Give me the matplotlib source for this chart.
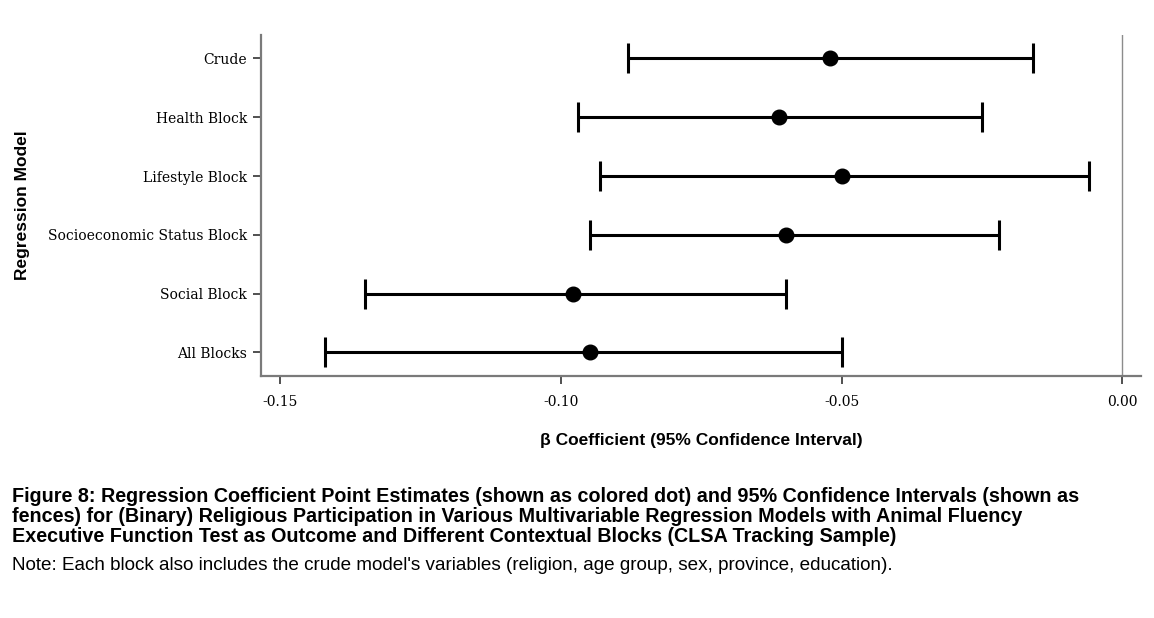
import numpy as np
import matplotlib.pyplot as plt

# regression models, top to bottom
models = ["Crude", "Health Block", "Lifestyle Block",
          "Socioeconomic Status Block", "Social Block", "All Blocks"]

# beta coefficients with 95% CI bounds
beta = [-0.0520, -0.0611, -0.0499, -0.0600, -0.0979, -0.0949]
ci_low = [-0.0880, -0.0970, -0.0930, -0.0949, -0.1349, -0.1420]
ci_high = [-0.0160, -0.0250, -0.0060, -0.0220, -0.0600, -0.0500]

x_ticks = [-0.15, -0.10, -0.05, 0.00]
x_tick_labels = ["-0.15", "-0.10", "-0.05", "0.00"]

caption = ("Figure 8: Regression Coefficient Point Estimates (shown as colored dot) and 95% Confidence Intervals (shown as\n"
           "fences) for (Binary) Religious Participation in Various Multivariable Regression Models with Animal Fluency\n"
           "Executive Function Test as Outcome and Different Contextual Blocks (CLSA Tracking Sample)")
note = "Note: Each block also includes the crude model's variables (religion, age group, sex, province, education)."

fig = plt.figure(figsize=(11.54, 6.18), dpi=100)
ax = fig.add_axes([0.2262, 0.3916, 0.9887 - 0.2262, 0.9434 - 0.3916])

y = np.arange(len(models))
beta = np.array(beta)
err = np.vstack([beta - np.array(ci_low), np.array(ci_high) - beta])

# reference line at zero effect
ax.axvline(0, color="#8c8c8c", lw=1.0, zorder=1)
ax.errorbar(beta, y, xerr=err, fmt="o", color="black", ms=10.5,
            elinewidth=2.2, capsize=11, capthick=2.2, zorder=3)

ax.set_ylim(len(models) - 1 + 0.4, -0.4)
ax.set_xlim(-0.1534, 0.0033)
ax.set_yticks(y)
ax.set_yticklabels(models, family="DejaVu Serif", fontsize=10)
ax.set_xticks(x_ticks)
ax.set_xticklabels(x_tick_labels, family="DejaVu Serif", fontsize=10)

for side in ["top", "right"]:
    ax.spines[side].set_visible(False)
for side in ["left", "bottom"]:
    ax.spines[side].set_color("#7a7a7a")
    ax.spines[side].set_linewidth(1.6)
ax.tick_params(axis="both", length=6, width=1.4, color="#505050", pad=4)
ax.tick_params(axis="x", pad=8)

ax.set_xlabel("β Coefficient (95% Confidence Interval)", family="Liberation Sans",
              fontweight="bold", fontsize=12.5, labelpad=17)
ax.set_ylabel("Regression Model", family="Liberation Sans",
              fontweight="bold", fontsize=12.5)
ax.yaxis.set_label_coords(-0.263, 0.5)

fig.text(12 / 1154, 1 - 487 / 618, caption, family="Liberation Sans",
         fontweight="bold", fontsize=14.2, va="top", ha="left", linespacing=1.08)
fig.text(12 / 1154, 1 - 566 / 618, note, family="Liberation Sans",
         fontsize=13.6, va="center", ha="left")

fig.savefig("out.png", dpi=100)
